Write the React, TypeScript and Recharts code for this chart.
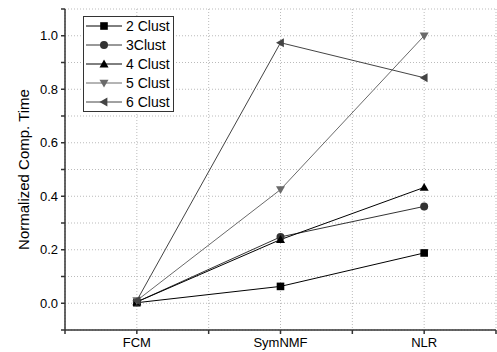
import React from "react";
import {
  LineChart,
  Line,
  XAxis,
  YAxis,
  CartesianGrid,
} from "recharts";

const methods = ["FCM", "SymNMF", "NLR"];
const clust2 = [0.002, 0.063, 0.188];
const clust3 = [0.005, 0.248, 0.362];
const clust4 = [0.005, 0.238, 0.433];
const clust5 = [0.01, 0.425, 1.0];
const clust6 = [0.01, 0.974, 0.843];

const xTicks = [0.5, 1, 1.5, 2, 2.5, 3, 3.5];
const yTicks = [-0.1, 0, 0.1, 0.2, 0.3, 0.4, 0.5, 0.6, 0.7, 0.8, 0.9, 1.0, 1.1];

type ShapeKind = "square" | "circle" | "up" | "down" | "left";

const seriesDefs: { key: string; name: string; values: number[]; color: string; shape: ShapeKind }[] = [
  { key: "c2", name: "2 Clust", values: clust2, color: "#000000", shape: "square" },
  { key: "c3", name: "3Clust", values: clust3, color: "#333333", shape: "circle" },
  { key: "c4", name: "4 Clust", values: clust4, color: "#000000", shape: "up" },
  { key: "c5", name: "5 Clust", values: clust5, color: "#6a6a6a", shape: "down" },
  { key: "c6", name: "6 Clust", values: clust6, color: "#444444", shape: "left" },
];

const data = methods.map((m, i) => {
  const row: Record<string, number | string> = { x: i + 1, name: m };
  seriesDefs.forEach((s) => {
    row[s.key] = s.values[i];
  });
  return row;
});

const Marker = ({ cx, cy, shape, color }: { cx: number; cy: number; shape: ShapeKind; color: string }) => {
  if (cx == null || cy == null) return null;
  const r = 4.5;
  switch (shape) {
    case "square":
      return <rect x={cx - 3.8} y={cy - 3.8} width={7.6} height={7.6} fill={color} />;
    case "circle":
      return <circle cx={cx} cy={cy} r={4} fill={color} />;
    case "up":
      return <polygon points={`${cx},${cy - r} ${cx - r},${cy + r * 0.75} ${cx + r},${cy + r * 0.75}`} fill={color} />;
    case "down":
      return <polygon points={`${cx},${cy + r} ${cx - r},${cy - r * 0.75} ${cx + r},${cy - r * 0.75}`} fill={color} />;
    case "left":
      return <polygon points={`${cx - r},${cy} ${cx + r * 0.75},${cy - r} ${cx + r * 0.75},${cy + r}`} fill={color} />;
  }
  return null;
};

const LegendBox = () => (
  <div
    style={{
      position: "absolute",
      left: 83,
      top: 16,
      border: "1px solid #333",
      background: "#fff",
      padding: "0px 3px 0px 2px",
      fontFamily: "'Liberation Sans', Arial, sans-serif",
      fontSize: 14,
      lineHeight: "16px",
      color: "#000",
    }}
  >
    {seriesDefs.map((s) => (
      <div key={s.key} style={{ display: "flex", alignItems: "center", height: 18.8 }}>
        <svg width={38} height={14}>
          <line x1={0} y1={7} x2={36} y2={7} stroke={s.color} strokeWidth={1} />
          <Marker cx={18} cy={7} shape={s.shape} color={s.color} />
        </svg>
        <span style={{ marginLeft: 2 }}>{s.name}</span>
      </div>
    ))}
  </div>
);

const axisFont = { fontFamily: "'Liberation Sans', Arial, sans-serif", fontSize: 13, fill: "#000" };

export default function App() {
  return (
    <div style={{ position: "absolute", left: 0, top: 0, width: 497, height: 352 }}>
      <LineChart width={497} height={352} data={data} margin={{ top: 9, right: 1, left: 0, bottom: 0 }}>
        <CartesianGrid stroke="#bbbbbb" strokeDasharray="1 2" />
        <XAxis
          dataKey="x"
          type="number"
          domain={[0.5, 3.5]}
          ticks={xTicks}
          tickFormatter={(v: number) => (Number.isInteger(v) ? methods[v - 1] : "")}
          height={22}
          tick={axisFont}
          tickSize={4}
          tickMargin={4}
          stroke="#333"
          strokeWidth={1.5}
          interval={0}
        />
        <XAxis
          xAxisId="top"
          orientation="top"
          dataKey="x"
          type="number"
          domain={[0.5, 3.5]}
          ticks={xTicks}
          tick={false}
          height={0}
          mirror
          tickSize={4}
          stroke="#333"
          strokeWidth={1.5}
          interval={0}
        />
        <YAxis
          type="number"
          domain={[-0.1, 1.1]}
          ticks={yTicks}
          tickFormatter={(v: number) => (Math.round(v * 10) % 2 === 0 ? v.toFixed(1) : "")}
          width={65}
          tick={axisFont}
          tickSize={4}
          tickMargin={3}
          stroke="#333"
          strokeWidth={1.5}
          interval={0}
          label={{
            value: "Normalized Comp. Time",
            angle: -90,
            position: "insideLeft",
            offset: 24,
            style: { textAnchor: "middle", fontFamily: "'Liberation Sans', Arial, sans-serif", fontSize: 15, fill: "#000" },
          }}
        />
        <YAxis
          yAxisId="right"
          orientation="right"
          type="number"
          domain={[-0.1, 1.1]}
          ticks={yTicks}
          tick={false}
          width={0}
          mirror
          tickSize={4}
          stroke="#333"
          strokeWidth={1.5}
          interval={0}
        />
        {seriesDefs.map((s) => (
          <Line
            key={s.key}
            dataKey={s.key}
            name={s.name}
            type="linear"
            stroke={s.color}
            strokeWidth={1}
            isAnimationActive={false}
            dot={(p: any) => <Marker key={`${s.key}-${p.index}`} cx={p.cx} cy={p.cy} shape={s.shape} color={s.color} />}
            activeDot={false}
          />
        ))}
      </LineChart>
      <LegendBox />
    </div>
  );
}
